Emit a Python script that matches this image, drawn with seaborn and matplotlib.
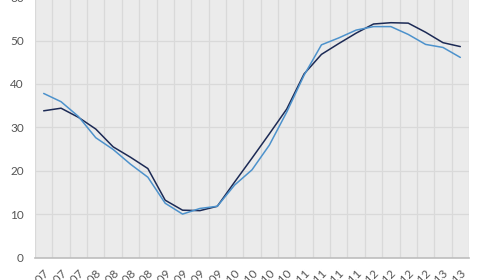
import matplotlib
matplotlib.use("Agg")
import matplotlib.pyplot as plt
import seaborn as sns
import pandas as pd
import numpy as np

# ---- data ----
periods = ["2007", "2007", "2007",
           "2008", "2008", "2008", "2008",
           "2009", "2009", "2009", "2009",
           "2010", "2010", "2010", "2010",
           "2011", "2011", "2011", "2011",
           "2012", "2012", "2012", "2012",
           "2013", "2013"]
series_dark = [33.8, 34.4, 32.3, 29.6, 25.5, 23.1, 20.5, 13.2, 10.9, 10.8, 11.8,
               17.4, 22.9, 28.5, 34.2, 42.3, 46.8, 49.3, 51.7, 53.8, 54.1, 54.0,
               51.9, 49.5, 48.6]
series_light = [37.8, 35.9, 32.5, 27.6, 24.9, 21.5, 18.5, 12.5, 10.0, 11.3, 11.8,
                16.7, 20.2, 25.9, 33.5, 42.0, 49.0, 50.6, 52.4, 53.2, 53.2, 51.4,
                49.1, 48.4, 46.1]
y_ticks = [0, 10, 20, 30, 40, 50, 60]

sns.set_theme(style="white")
plt.rcParams["font.family"] = ["Lato", "DejaVu Sans"]

n = len(periods)
idx = list(range(n))
df = pd.concat([
    pd.DataFrame({"i": idx, "value": series_dark, "series": "A"}),
    pd.DataFrame({"i": idx, "value": series_light, "series": "B"}),
])

fig = plt.figure(figsize=(4.8, 2.8), dpi=100)
ax = fig.add_axes([35 / 480, 22.5 / 280, 434 / 480, 260.4 / 280])
ax.set_facecolor("#ebebeb")

sns.lineplot(data=df, x="i", y="value", hue="series",
             palette={"A": "#1c2a55", "B": "#4d92cc"},
             linewidth=1.1, legend=False, ax=ax, zorder=3)

ax.set_xlim(-0.5, n - 0.5)
ax.set_ylim(0, 60)
ax.set_yticks(y_ticks)
ax.set_yticklabels([str(v) for v in y_ticks])
ax.set_xticks(idx)
ax.set_xticklabels(periods, rotation=45, ha="right", va="top",
                   rotation_mode="anchor")
ax.set_xticks(np.arange(-0.5, n, 1.0), minor=True)
ax.grid(False)
ax.grid(True, which="minor", axis="x", color="#d9d9d9", linewidth=0.9, zorder=0)
ax.grid(True, which="major", axis="y", color="#d9d9d9", linewidth=0.9, zorder=0)
ax.set_axisbelow(True)

ax.tick_params(axis="both", which="both", length=0)
ax.tick_params(axis="y", pad=8, labelsize=8.5, labelcolor="#555555")
ax.tick_params(axis="x", pad=7, labelsize=8.5, labelcolor="#555555")
ax.set_xlabel("")
ax.set_ylabel("")
for s in ["top", "right", "left"]:
    ax.spines[s].set_visible(False)
ax.spines["bottom"].set_color("#bdbdbd")
ax.spines["bottom"].set_linewidth(1.2)

fig.savefig("out.png", dpi=100)
